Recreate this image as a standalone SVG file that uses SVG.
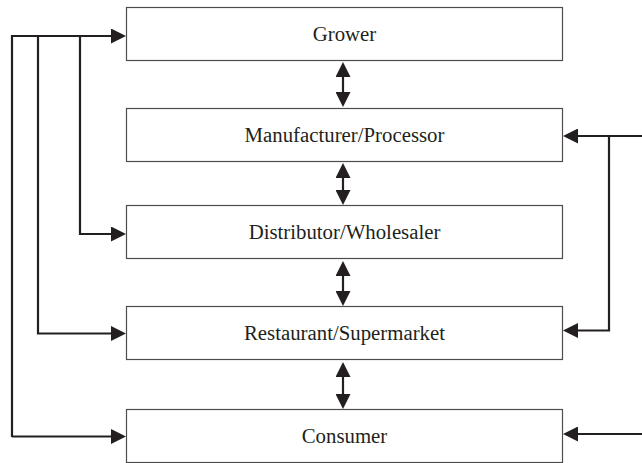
<svg xmlns="http://www.w3.org/2000/svg" width="642" height="463" viewBox="0 0 642 463">
<style>
.box{fill:#fff;stroke:#4d4d4d;stroke-width:1.2}
.lbl{font-family:"Liberation Serif","Times New Roman",serif;font-size:20.8px;fill:#231f20;text-anchor:middle}
.con{fill:none;stroke:#231f20;stroke-width:2.2}
</style>
<defs>
<marker id="ah" viewBox="0 0 15 15" refX="0" refY="7.5" markerWidth="15" markerHeight="15" markerUnits="userSpaceOnUse" orient="auto-start-reverse">
<path d="M0,0 L15,7.5 L0,15 z" fill="#231f20"/>
</marker>
</defs>
<g id="grower"><rect class="box" x="126.5" y="7.5" width="436" height="53"/><text class="lbl" x="344.5" y="40.5">Grower</text></g>
<g id="manufacturer"><rect class="box" x="126.5" y="108.5" width="436" height="53"/><text class="lbl" x="344.5" y="141.5">Manufacturer/Processor</text></g>
<g id="distributor"><rect class="box" x="126.5" y="205.5" width="436" height="53"/><text class="lbl" x="344.5" y="238.5">Distributor/Wholesaler</text></g>
<g id="restaurant"><rect class="box" x="126.5" y="306.5" width="436" height="53"/><text class="lbl" x="344.5" y="339.5">Restaurant/Supermarket</text></g>
<g id="consumer"><rect class="box" x="126.5" y="409.5" width="436" height="53"/><text class="lbl" x="344.5" y="442.5">Consumer</text></g>
<g id="connectors">
<path class="con" d="M12,437 L12,36 L111,36" marker-end="url(#ah)"/>
<path class="con" d="M12,436.5 L111,436.5" marker-end="url(#ah)"/>
<path class="con" d="M38,36 L38,333.5 L111,333.5" marker-end="url(#ah)"/>
<path class="con" d="M80,36 L80,234 L111,234" marker-end="url(#ah)"/>
<path class="con" d="M642,136 L578,136" marker-end="url(#ah)"/>
<path class="con" d="M609,136 L609,330.5 L578,330.5" marker-end="url(#ah)"/>
<path class="con" d="M642,434 L578,434" marker-end="url(#ah)"/>
<path class="con" d="M343,77 L343,92" marker-start="url(#ah)" marker-end="url(#ah)"/>
<path class="con" d="M343,178 L343,190" marker-start="url(#ah)" marker-end="url(#ah)"/>
<path class="con" d="M343,276 L343,291" marker-start="url(#ah)" marker-end="url(#ah)"/>
<path class="con" d="M343,377 L343,394" marker-start="url(#ah)" marker-end="url(#ah)"/>
</g>
</svg>
